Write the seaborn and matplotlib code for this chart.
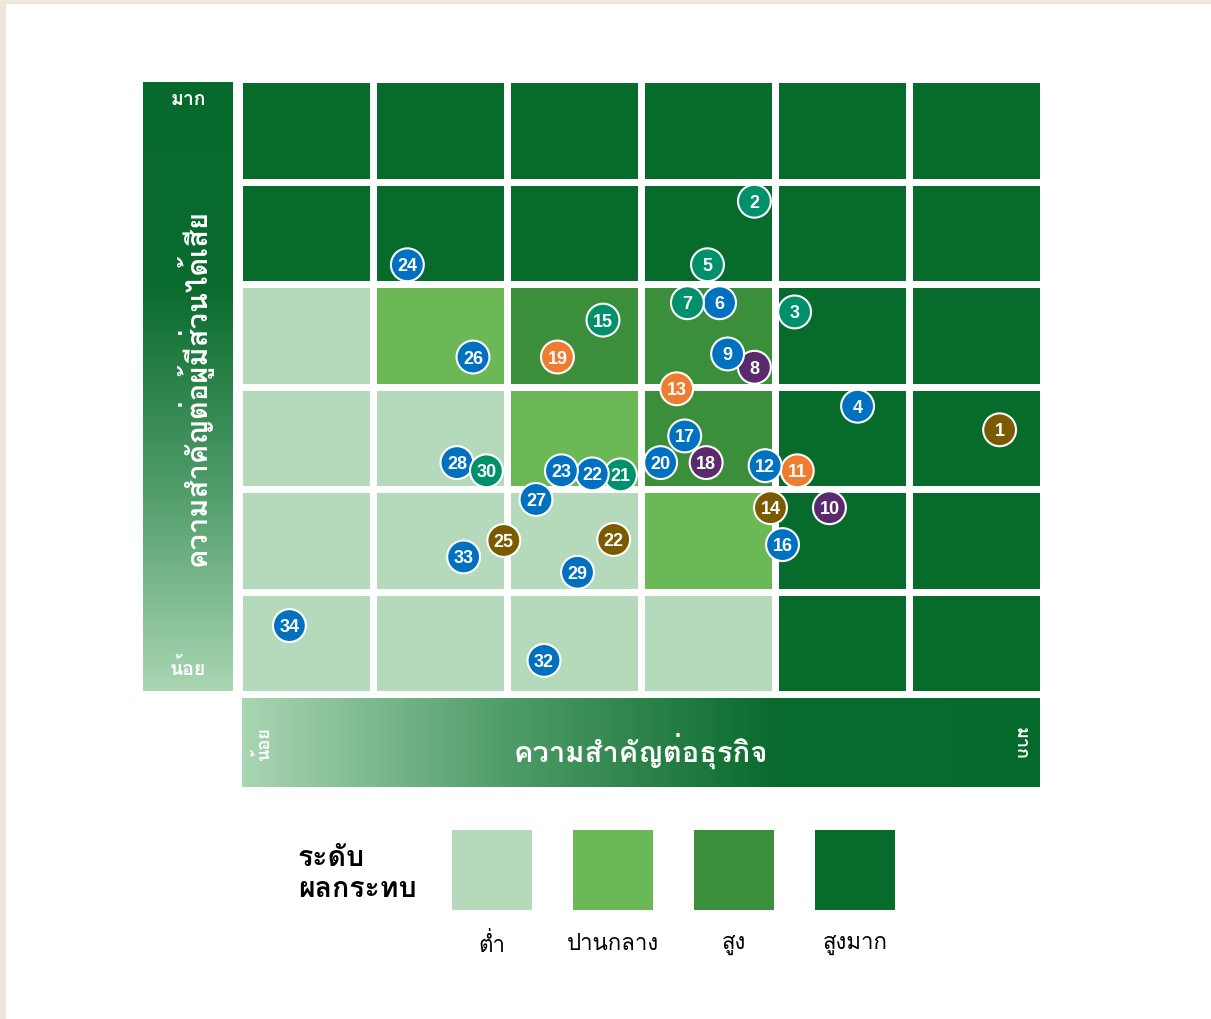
import numpy as np
import pandas as pd
import matplotlib
matplotlib.use('Agg')
import matplotlib.pyplot as plt
from matplotlib import font_manager
from matplotlib.colors import ListedColormap, LinearSegmentedColormap
from matplotlib.patches import Rectangle
import seaborn as sns
from fontTools.ttLib import TTFont

# ---- data ----
# impact level per cell, rows from bottom (low stakeholder importance) to top
level_rows = [
    [0, 0, 0, 0, 3, 3],
    [0, 0, 0, 1, 3, 3],
    [0, 0, 1, 2, 3, 3],
    [0, 1, 2, 2, 3, 3],
    [3, 3, 3, 3, 3, 3],
    [3, 3, 3, 3, 3, 3],
]
level_names = ['ต่ำ', 'ปานกลาง', 'สูง', 'สูงมาก']
level_colors = ['#b4dabb', '#6bb856', '#3b8f3a', '#076b2c']

# topics: number, business importance (x), stakeholder importance (y), group
topic_no = ['1', '2', '3', '4', '5', '6', '7', '8', '9', '10', '11', '12', '13', '14',
            '15', '16', '17', '18', '19', '20', '21', '22', '23', '22', '24', '25',
            '26', '27', '28', '29', '30', '32', '33', '34']
topic_x = [5.68, 3.85, 4.15, 4.62, 3.50, 3.59, 3.35, 3.85, 3.65, 4.41, 4.17, 3.93, 3.27, 3.97,
           2.72, 4.06, 3.33, 3.49, 2.38, 3.15, 2.85, 2.64, 2.41, 2.80, 1.26, 1.98,
           1.75, 2.22, 1.63, 2.53, 1.85, 2.28, 1.68, 0.38]
topic_y = [2.58, 4.81, 3.73, 2.81, 4.19, 3.82, 3.82, 3.19, 3.32, 1.82, 2.18, 2.23, 2.98, 1.82,
           3.65, 1.46, 2.52, 2.26, 3.29, 2.26, 2.14, 2.15, 2.18, 1.51, 4.19, 1.50,
           3.29, 1.90, 2.26, 1.19, 2.18, 0.33, 1.34, 0.67]
topic_group = ['brown', 'teal', 'teal', 'blue', 'teal', 'blue', 'teal', 'purple', 'blue', 'purple',
               'orange', 'blue', 'orange', 'brown', 'teal', 'blue', 'blue', 'purple', 'orange',
               'blue', 'teal', 'blue', 'blue', 'brown', 'blue', 'brown', 'blue', 'blue', 'blue',
               'blue', 'teal', 'blue', 'blue', 'blue']
group_colors = {'blue': '#0070c0', 'teal': '#00916a', 'orange': '#ee7d31',
                'purple': '#5b2a6d', 'brown': '#7a5b00'}

x_title = 'ความสำคัญต่อธุรกิจ'
y_title = 'ความสำคัญต่อผู้มีส่วนได้เสีย'
low_txt, high_txt = 'น้อย', 'มาก'
legend_title = 'ระดับ\nผลกระทบ'


def find_thai_font():
    # pick the first installed font that has Thai glyphs
    for f in font_manager.fontManager.ttflist:
        try:
            cmap = TTFont(f.fname, fontNumber=0, lazy=True).getBestCmap()
        except Exception:
            continue
        if cmap and 0x0E01 in cmap and 0x0E33 in cmap:
            return f.name
    return 'DejaVu Sans'


sns.set_theme(style='white')
thai = find_thai_font()
plt.rcParams['font.family'] = [thai, 'DejaVu Sans']

fig = plt.figure(figsize=(12.11, 10.20), dpi=100)
W, H = 1211, 1020


def frac(x0, y0, x1, y1):
    return [x0 / W, 1 - y1 / H, (x1 - x0) / W, (y1 - y0) / H]


# beige frame on top and left
fig.patches.append(Rectangle((0, 1 - 4 / H), 1, 4 / H, transform=fig.transFigure,
                             color='#ede6da', zorder=0))
fig.patches.append(Rectangle((0, 0), 5 / W, 1, transform=fig.transFigure,
                             color='#ede6da', zorder=0))

# ---- matrix ----
ax = fig.add_axes(frac(238.5, 80.25, 1042.5, 695.25))
grid = pd.DataFrame(level_rows)
sns.heatmap(grid, cmap=ListedColormap(level_colors), vmin=-0.5, vmax=3.5, cbar=False,
            linewidths=4.9, linecolor='white', ax=ax)
ax.set_xlim(0, 6)
ax.set_ylim(0, 6)
ax.axis('off')

pts = pd.DataFrame({'x': topic_x, 'y': topic_y, 'g': topic_group, 'n': topic_no})
sns.scatterplot(data=pts, x='x', y='y', hue='g', palette=group_colors, s=560,
                edgecolor='white', linewidth=1.5, legend=False, ax=ax, zorder=3)
for _, r in pts.iterrows():
    ax.text(r['x'], r['y'] - 0.01, r['n'], color='white', fontsize=13, fontweight='bold',
            ha='center', va='center', family=['Liberation Sans', 'DejaVu Sans'], zorder=4)

# ---- gradient bars ----
grad = LinearSegmentedColormap.from_list('g', ['#a9d6b3', '#4f9c68', '#0a6b2d', '#076a2d'],
                                         N=256)

axl = fig.add_axes(frac(143, 83, 233, 692))
axl.imshow(np.linspace(0, 1, 256)[:, None], cmap=grad, aspect='auto',
           extent=[0, 1, 0, 1], origin='lower')
axl.set_xlim(0, 1)
axl.set_ylim(0, 1)
axl.axis('off')
axl.text(0.5, 0.972, high_txt, color='white', fontsize=14, fontweight='bold',
         ha='center', va='center')
axl.text(0.5, 0.038, low_txt, color='white', fontsize=14, fontweight='bold',
         ha='center', va='center')
axl.text(0.57, 0.5, y_title, color='white', fontsize=21, fontweight='bold',
         ha='center', va='center', rotation=90)

axb = fig.add_axes(frac(242, 699, 1040, 788))
axb.imshow(np.linspace(0, 1, 256)[None, :], cmap=grad, aspect='auto',
           extent=[0, 1, 0, 1])
axb.set_xlim(0, 1)
axb.set_ylim(0, 1)
axb.axis('off')
axb.text(0.5, 0.42, x_title, color='white', fontsize=21, fontweight='bold',
         ha='center', va='center')
axb.text(0.027, 0.5, low_txt, color='white', fontsize=13, fontweight='bold',
         ha='center', va='center', rotation=90)
axb.text(0.976, 0.5, high_txt, color='white', fontsize=13, fontweight='bold',
         ha='center', va='center', rotation=-90)

# ---- legend ----
axg = fig.add_axes(frac(431.5, 831, 915.5, 911))
axg.bar(range(len(level_names)), [1] * len(level_names), width=80 / 121,
        color=level_colors, linewidth=0)
axg.set_xlim(-0.5, 3.5)
axg.set_ylim(0, 1)
axg.axis('off')
for i, name in enumerate(level_names):
    axg.text(i, -0.42, name, color='black', fontsize=16, ha='center', va='center')

fig.text(298 / W, 1 - 874 / H, legend_title, color='black', fontsize=20.5,
         fontweight='bold', ha='left', va='center', linespacing=1.3)

fig.savefig('out.png', dpi=100, facecolor='white')
